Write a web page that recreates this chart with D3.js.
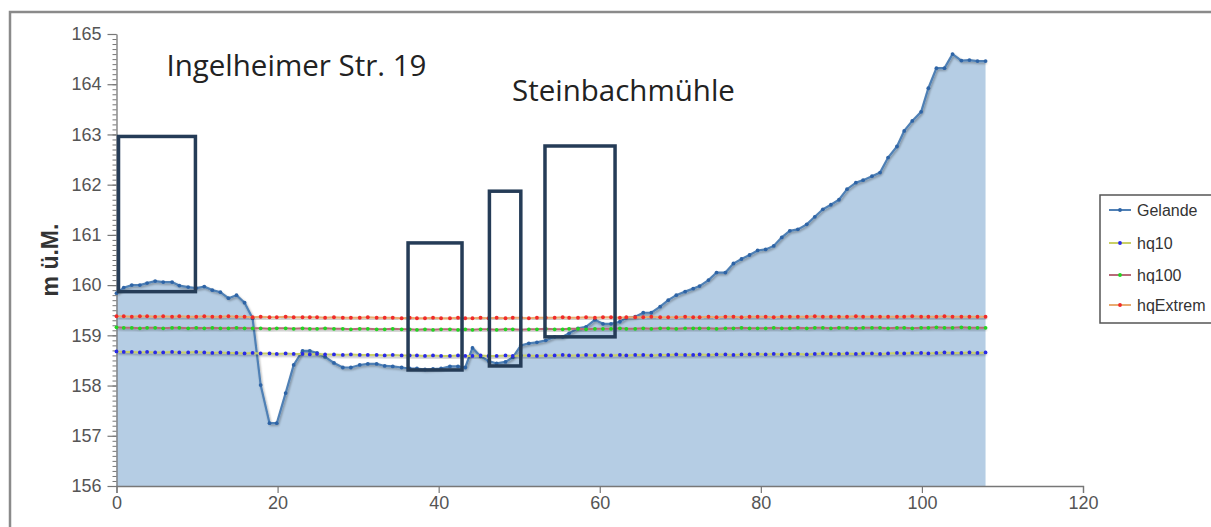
<!DOCTYPE html>
<html><head><meta charset="utf-8">
<script src="https://cdn.jsdelivr.net/npm/d3@7"></script>
<style>
html,body{margin:0;padding:0;background:#fff;}
svg{display:block;}
</style></head>
<body>
<svg id="chart" width="1211" height="527"></svg>
<script>
// ---- data ----
const distance = [
 0,0.9,1.9,2.9,3.8,4.8,5.8,6.9,7.8,8.9,9.9,10.9,
 11.9,12.9,13.9,14.9,15.9,16.9,17.9,19.0,19.9,21.0,22.0,23.1,
 24.0,24.9,25.9,27.0,28.1,29.1,30.2,31.2,32.3,33.3,34.3,35.4,
 36.4,37.3,38.3,39.3,40.3,41.4,42.4,43.3,44.2,45.2,46.2,47.2,
 48.3,49.2,50.2,51.2,52.2,53.3,54.4,55.4,56.2,57.3,58.3,59.4,
 60.4,61.4,62.5,63.3,64.4,65.4,66.4,67.5,68.5,69.5,70.6,71.6,
 72.4,73.5,74.5,75.6,76.6,77.6,78.6,79.6,80.6,81.6,82.6,83.6,
 84.6,85.7,86.7,87.7,88.7,89.7,90.7,91.8,92.7,93.8,94.8,95.8,
 96.9,97.8,98.8,99.9,100.8,101.8,102.8,103.8,104.9,105.9,106.9,107.9];
const gelande = [
 159.84,159.95,160.0,160.0,160.04,160.08,160.06,160.06,159.99,159.96,159.94,159.97,
 159.90,159.86,159.74,159.80,159.65,159.34,158.01,157.25,157.25,157.85,158.41,158.69,
 158.69,158.65,158.57,158.45,158.36,158.36,158.41,158.43,158.43,158.39,158.38,158.36,
 158.34,158.34,158.32,158.33,158.34,158.38,158.38,158.36,158.75,158.58,158.49,158.44,
 158.47,158.56,158.80,158.84,158.86,158.90,158.97,158.97,159.04,159.14,159.17,159.31,
 159.23,159.23,159.27,159.35,159.37,159.45,159.45,159.57,159.70,159.80,159.87,159.93,
 159.98,160.10,160.25,160.25,160.43,160.52,160.60,160.69,160.71,160.78,160.95,161.08,
 161.11,161.21,161.36,161.51,161.60,161.70,161.91,162.04,162.09,162.17,162.24,162.54,
 162.76,163.07,163.27,163.45,163.92,164.32,164.32,164.60,164.47,164.48,164.46,164.46];
const hq10 = [
 158.68,158.67,158.67,158.66,158.67,158.66,158.66,158.67,158.66,158.66,158.67,158.66,
 158.65,158.66,158.65,158.65,158.64,158.65,158.64,158.64,158.63,158.64,158.63,158.63,
 158.62,158.63,158.62,158.62,158.61,158.62,158.61,158.61,158.61,158.60,158.61,158.60,
 158.60,158.60,158.59,158.60,158.59,158.59,158.60,158.59,158.59,158.60,158.59,158.59,
 158.60,158.59,158.60,158.60,158.59,158.60,158.60,158.61,158.60,158.60,158.61,158.60,
 158.61,158.60,158.61,158.60,158.61,158.61,158.60,158.61,158.61,158.62,158.61,158.61,
 158.62,158.61,158.62,158.62,158.61,158.62,158.62,158.63,158.62,158.63,158.62,158.63,
 158.63,158.62,158.63,158.64,158.63,158.63,158.64,158.63,158.64,158.64,158.63,158.64,
 158.65,158.64,158.65,158.65,158.64,158.65,158.66,158.65,158.65,158.66,158.65,158.66];
const hq100 = [
 159.16,159.15,159.15,159.14,159.15,159.15,159.14,159.15,159.15,159.14,159.15,159.14,
 159.15,159.14,159.14,159.15,159.14,159.14,159.14,159.13,159.14,159.14,159.13,159.14,
 159.13,159.13,159.14,159.13,159.13,159.12,159.13,159.13,159.12,159.12,159.13,159.12,
 159.12,159.11,159.12,159.11,159.12,159.12,159.11,159.12,159.11,159.12,159.12,159.11,
 159.12,159.12,159.11,159.12,159.12,159.13,159.12,159.12,159.13,159.13,159.12,159.13,
 159.13,159.13,159.14,159.13,159.13,159.14,159.13,159.14,159.14,159.13,159.14,159.14,
 159.14,159.14,159.13,159.14,159.14,159.15,159.14,159.14,159.14,159.15,159.14,159.14,
 159.15,159.14,159.15,159.15,159.14,159.15,159.15,159.14,159.15,159.15,159.15,159.14,
 159.15,159.15,159.14,159.15,159.15,159.16,159.15,159.15,159.16,159.15,159.15,159.15];
const hqExtrem = [
 159.38,159.38,159.37,159.38,159.38,159.37,159.38,159.37,159.38,159.37,159.37,159.38,
 159.37,159.37,159.38,159.37,159.37,159.36,159.37,159.36,159.36,159.37,159.36,159.36,
 159.36,159.36,159.35,159.36,159.35,159.35,159.35,159.36,159.35,159.35,159.35,159.34,
 159.35,159.34,159.34,159.35,159.34,159.34,159.35,159.34,159.34,159.35,159.34,159.35,
 159.34,159.35,159.35,159.34,159.35,159.35,159.35,159.36,159.35,159.35,159.36,159.35,
 159.36,159.36,159.35,159.36,159.36,159.36,159.37,159.36,159.36,159.36,159.37,159.36,
 159.36,159.37,159.36,159.37,159.37,159.36,159.37,159.37,159.37,159.36,159.37,159.37,
 159.37,159.37,159.38,159.37,159.37,159.37,159.37,159.38,159.37,159.37,159.37,159.37,
 159.37,159.37,159.38,159.37,159.37,159.37,159.38,159.37,159.37,159.37,159.37,159.37];
const seriesNames = ["Gelande","hq10","hq100","hqExtrem"];
const xTicks = [0,20,40,60,80,100,120];
const yTicks = [156,157,158,159,160,161,162,163,164,165];
const yTitle = "m ü.M.";
// annotation boxes: [x0, x1, yBottom, yTop] in chart units
const boxX0 = [0.25, 36.2, 46.3, 53.2];
const boxX1 = [9.8, 42.9, 50.2, 61.9];
const boxYlo = [159.87, 158.31, 158.39, 158.97];
const boxYhi = [162.96, 160.84, 161.87, 162.77];
const labelTexts = ["Ingelheimer Str. 19", "Steinbachmühle"];
const labelX = [6.2, 49.1];
const labelY = [164.16, 163.66];

// ---- drawing ----
const svg = d3.select("#chart");
const x = d3.scaleLinear().domain([0,120]).range([116.5,1083]);
const y = d3.scaleLinear().domain([156,165]).range([486,34]);

const defs = svg.append("defs");
const f = defs.append("filter").attr("id","sh").attr("x","-5%").attr("y","-50%").attr("width","110%").attr("height","200%");
f.append("feDropShadow").attr("dx",1).attr("dy",1.5).attr("stdDeviation",1.2).attr("flood-color","#000").attr("flood-opacity",0.35);

// outer frame
svg.append("rect").attr("x",10).attr("y",12).attr("width",1300).attr("height",700)
  .attr("fill","none").attr("stroke","#8a8a8a").attr("stroke-width",2.5);

const terrain = distance.map((d,i)=>({x:d,y:gelande[i]}));
svg.append("path").datum(terrain)
  .attr("d", d3.area().x(d=>x(d.x)).y0(y(156)).y1(d=>y(d.y)))
  .attr("fill","#b5cde4");

// axes
const fontAxis = "'Liberation Sans Narrow','Arial Narrow','Liberation Sans',Arial,sans-serif";
const yAxisMinor = svg.append("g").attr("transform","translate(116.5,0)")
  .call(d3.axisLeft(y).ticks(90).tickSize(4).tickFormat(""));
yAxisMinor.select(".domain").remove();
yAxisMinor.selectAll("line").attr("stroke","#777");
const yAxis = svg.append("g").attr("transform","translate(116.5,0)")
  .call(d3.axisLeft(y).tickValues(yTicks).tickSize(9).tickPadding(6).tickFormat(d3.format("d")).tickSizeOuter(0));
yAxis.select(".domain").attr("stroke","#777").attr("stroke-width",1.3);
yAxis.selectAll("line").attr("stroke","#777").attr("stroke-width",1.2);
yAxis.selectAll("text").attr("fill","#555").style("font-family",fontAxis).style("font-size","18px");

const xAxis = svg.append("g").attr("transform","translate(0,486)")
  .call(d3.axisBottom(x).tickValues(xTicks).tickSize(7).tickPadding(3).tickFormat(d3.format("d")).tickSizeOuter(7));
xAxis.select(".domain").attr("stroke","#777").attr("stroke-width",1.3);
xAxis.selectAll("line").attr("stroke","#777").attr("stroke-width",1.2);
xAxis.selectAll("text").attr("fill","#555").style("font-family",fontAxis).style("font-size","18px");

svg.append("text").attr("transform","translate(58,260) rotate(-90)")
  .attr("text-anchor","middle").attr("fill","#333")
  .style("font-family","'Liberation Sans',Arial,sans-serif").style("font-weight","bold").style("font-size","23px")
  .text(yTitle);

// lines
const lineGen = d3.line().x(d=>x(d.x)).y(d=>y(d.y));
const styles = [
  {vals:gelande, line:"#4f80b5", dot:"#2e64a6", w:2.2},
  {vals:hq10, line:"#c9cf66", dot:"#2a2ae6", w:2},
  {vals:hq100, line:"#b86a78", dot:"#22d422", w:2},
  {vals:hqExtrem, line:"#e9ab70", dot:"#f02a2a", w:2}
];
styles.forEach(s=>{
  const pts = distance.map((d,i)=>({x:d,y:s.vals[i]}));
  svg.append("path").datum(pts).attr("d",lineGen).attr("fill","none")
    .attr("stroke",s.line).attr("stroke-width",s.w).attr("filter","url(#sh)");
  svg.append("g").selectAll("circle").data(pts).join("circle")
    .attr("cx",d=>x(d.x)).attr("cy",d=>y(d.y)).attr("r",1.9).attr("fill",s.dot);
});

// annotation boxes
svg.append("g").selectAll("rect").data(boxX0).join("rect")
  .attr("x",(d,i)=>x(boxX0[i])).attr("y",(d,i)=>y(boxYhi[i]))
  .attr("width",(d,i)=>x(boxX1[i])-x(boxX0[i])).attr("height",(d,i)=>y(boxYlo[i])-y(boxYhi[i]))
  .attr("fill","none").attr("stroke","#253c57").attr("stroke-width",3.5);

svg.append("g").selectAll("text").data(labelTexts).join("text")
  .attr("x",(d,i)=>x(labelX[i])).attr("y",(d,i)=>y(labelY[i]))
  .attr("fill","#222").style("font-family","'Open Sans',sans-serif").style("font-size","29.5px")
  .text(d=>d);

// legend
const lg = svg.append("g");
lg.append("rect").attr("x",1100).attr("y",195).attr("width",140).attr("height",128)
  .attr("fill","#fff").attr("stroke","#555").attr("stroke-width",1.5);
const legY = [210,243,275,305];
seriesNames.forEach((n,i)=>{
  const s = styles[i];
  lg.append("line").attr("x1",1109).attr("x2",1131).attr("y1",legY[i]).attr("y2",legY[i])
    .attr("stroke",s.line).attr("stroke-width",2);
  lg.append("circle").attr("cx",1120).attr("cy",legY[i]).attr("r",1.9).attr("fill",s.dot);
  lg.append("text").attr("x",1137).attr("y",legY[i]).attr("dy","0.36em")
    .attr("fill","#333").style("font-family","'Liberation Sans',Arial,sans-serif").style("font-size","16px")
    .text(n);
});
</script>
</body></html>
